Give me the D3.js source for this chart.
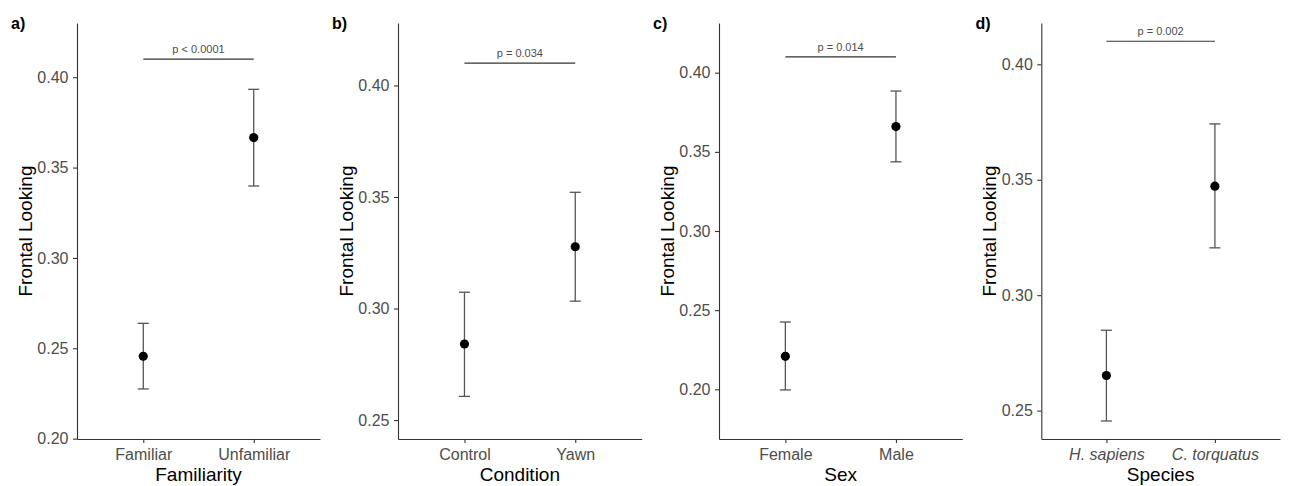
<!DOCTYPE html>
<html>
<head>
<meta charset="utf-8">
<script src="https://cdn.jsdelivr.net/npm/d3@7"></script>
<style>
    body { margin: 0; background: #fff; }
    svg { font-family: "Liberation Sans", Arial, sans-serif; }
    .axis path, .axis line { stroke: #333; stroke-width: 1.1; }
    .axis text { fill: #4d4d4d; font-size: 16px; }
</style>
</head>
<body>
<div id="chart"></div>
<script>
// values
const panelLabels = ["a)", "b)", "c)", "d)"];
const xTitles = ["Familiarity", "Condition", "Sex", "Species"];
const categories = [
    ["Familiar", "Unfamiliar"],
    ["Control", "Yawn"],
    ["Female", "Male"],
    ["H. sapiens", "C. torquatus"]
];
const means = [[0.2456, 0.3666], [0.2841, 0.3277], [0.2208, 0.3660], [0.2652, 0.3472]];
const upper = [[0.2638, 0.3933], [0.3073, 0.3521], [0.2425, 0.3884], [0.2848, 0.3742]];
const lower = [[0.2275, 0.3398], [0.2606, 0.3033], [0.1996, 0.3437], [0.2455, 0.3205]];
const pLabels = ["p < 0.0001", "p = 0.034", "p = 0.014", "p = 0.002"];
const bracketValue = 0.41;
const yDomains = [[0.1998, 0.430], [0.2415, 0.428], [0.1686, 0.4314], [0.2377, 0.4179]];
const yTicks = [0.20, 0.25, 0.30, 0.35, 0.40];
const italicTicks = [false, false, false, true];

const svgWidth = 1290;
const svgHeight = 486;

// left / right ends of each panel's plotting area
const panelLeft = [77, 398, 719, 1041.3];
const panelRight = [320, 641.7, 962.3, 1280];
const panelLabelX = [11, 332, 653, 975.5];
const plotTop = 23;
const plotBottom = 439;

const svg = d3.select("#chart")
    .append("svg")
    .attr("width", svgWidth)
    .attr("height", svgHeight);

svg.append("rect")
    .attr("width", svgWidth)
    .attr("height", svgHeight)
    .attr("fill", "#fff");

categories.forEach(function (cats, i) {

    const x = d3.scalePoint()
        .domain(cats)
        .range([panelLeft[i], panelRight[i]])
        .padding(0.6);

    const y = d3.scaleLinear()
        .domain(yDomains[i])
        .range([plotBottom, plotTop]);

    const g = svg.append("g");

    // axes
    const leftAxis = d3.axisLeft(y)
        .tickValues(yTicks.filter(t => t >= yDomains[i][0] && t <= yDomains[i][1]))
        .tickFormat(d3.format(".2f"))
        .tickSize(4)
        .tickPadding(4.5)
        .tickSizeOuter(0);

    const bottomAxis = d3.axisBottom(x)
        .tickSize(4)
        .tickPadding(5.5)
        .tickSizeOuter(0);

    g.append("g")
        .attr("class", "axis")
        .attr("transform", `translate(${panelLeft[i]}, 0)`)
        .call(leftAxis);

    const xAxisG = g.append("g")
        .attr("class", "axis")
        .attr("transform", `translate(0, ${plotBottom})`)
        .call(bottomAxis);

    if (italicTicks[i]) {
        xAxisG.selectAll("text").style("font-style", "italic");
    }

    // error bars
    const rows = cats.map((c, j) => ({ cat: c, mean: means[i][j], hi: upper[i][j], lo: lower[i][j] }));
    const capHalf = 5.5;

    g.selectAll(".errbar")
        .data(rows)
        .enter()
        .append("line")
        .attr("x1", d => x(d.cat))
        .attr("x2", d => x(d.cat))
        .attr("y1", d => y(d.hi))
        .attr("y2", d => y(d.lo))
        .attr("stroke", "#555")
        .attr("stroke-width", 1.3);

    ["hi", "lo"].forEach(function (k) {
        g.selectAll(".cap-" + k)
            .data(rows)
            .enter()
            .append("line")
            .attr("x1", d => x(d.cat) - capHalf)
            .attr("x2", d => x(d.cat) + capHalf)
            .attr("y1", d => y(d[k]))
            .attr("y2", d => y(d[k]))
            .attr("stroke", "#555")
            .attr("stroke-width", 1.3);
    });

    // points
    g.selectAll("circle")
        .data(rows)
        .enter()
        .append("circle")
        .attr("cx", d => x(d.cat))
        .attr("cy", d => y(d.mean))
        .attr("r", 4.6)
        .attr("fill", "#000");

    // significance bracket
    g.append("line")
        .attr("x1", x(cats[0]))
        .attr("x2", x(cats[1]))
        .attr("y1", y(bracketValue))
        .attr("y2", y(bracketValue))
        .attr("stroke", "#333")
        .attr("stroke-width", 1.1);

    g.append("text")
        .attr("x", (x(cats[0]) + x(cats[1])) / 2)
        .attr("y", y(bracketValue) - 6)
        .attr("text-anchor", "middle")
        .attr("font-size", "11px")
        .attr("fill", "#4d4d4d")
        .text(pLabels[i]);

    // axis titles
    g.append("text")
        .attr("x", (panelLeft[i] + panelRight[i]) / 2)
        .attr("y", 480.7)
        .attr("text-anchor", "middle")
        .attr("font-size", "19px")
        .attr("fill", "#000")
        .text(xTitles[i]);

    g.append("text")
        .attr("transform", `translate(${panelLeft[i] - 45}, ${(plotTop + plotBottom) / 2}) rotate(-90)`)
        .attr("text-anchor", "middle")
        .attr("font-size", "19px")
        .attr("fill", "#000")
        .text("Frontal Looking");

    // panel tag
    g.append("text")
        .attr("x", panelLabelX[i])
        .attr("y", 28.5)
        .attr("font-size", "16px")
        .attr("font-weight", "bold")
        .attr("fill", "#000")
        .text(panelLabels[i]);
});
</script>
</body>
</html>
